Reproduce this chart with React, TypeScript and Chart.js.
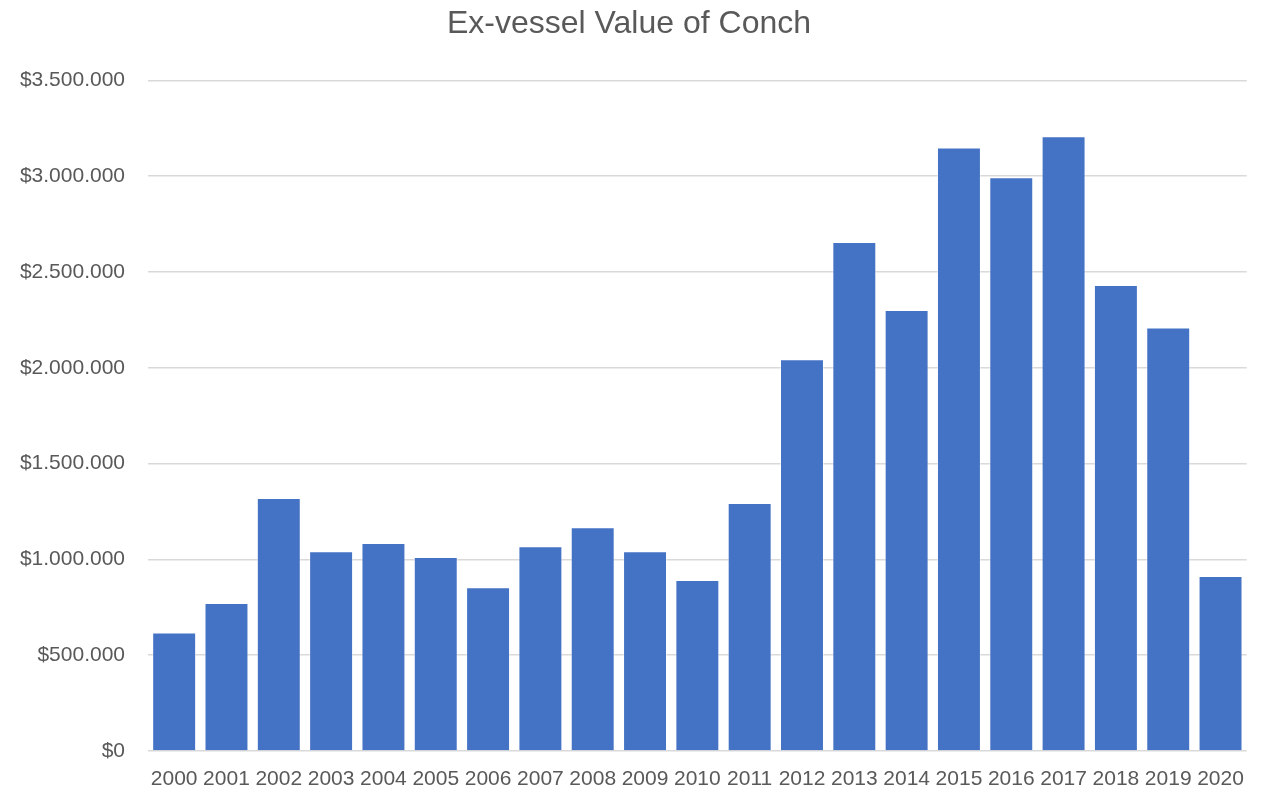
import React, { useEffect, useRef } from "react";
import { Chart, registerables } from "chart.js";

Chart.register(...registerables);

const years: string[] = [
  "2000", "2001", "2002", "2003", "2004", "2005", "2006", "2007", "2008", "2009", "2010",
  "2011", "2012", "2013", "2014", "2015", "2016", "2017", "2018", "2019", "2020",
];

const exVesselValue: number[] = [
  619000, 772000, 1321000, 1042000, 1085000, 1012000, 855000, 1069000, 1168000, 1043000, 892000,
  1294000, 2045000, 2657000, 2302000, 3150000, 2994000, 3208000, 2432000, 2210000, 913000,
];

const yMin = 0;
const yMax = 3500000;
const yStep = 500000;

const titleText = "Ex-vessel Value of Conch";

const FONT = "'Liberation Sans', Arial, sans-serif";

function formatDollar(v: number): string {
  const s = Math.round(v).toString().replace(/\B(?=(\d{3})+(?!\d))/g, ".");
  return "$" + s;
}

export default function App() {
  const ref = useRef<HTMLCanvasElement | null>(null);

  useEffect(() => {
    document.body.style.margin = "0";
    if (!ref.current) return;
    const chart = new Chart(ref.current, {
      type: "bar",
      data: {
        labels: years,
        datasets: [
          {
            label: "Ex-vessel Value",
            data: exVesselValue,
            backgroundColor: "#4472C4",
            borderColor: "rgba(255,255,255,0.45)",
            borderWidth: 1,
            barPercentage: 0.84,
            categoryPercentage: 1,
          },
        ],
      },
      options: {
        responsive: false,
        animation: false,
        maintainAspectRatio: false,
        layout: { padding: { top: 5, right: 4, bottom: 0, left: 0 } },
        plugins: {
          legend: { display: false },
          tooltip: { enabled: false },
          title: {
            display: true,
            text: titleText,
            color: "#595959",
            font: { family: FONT, size: 32, weight: "normal", lineHeight: 1.2 },
            padding: { top: 0, bottom: 37 },
          },
        },
        scales: {
          x: {
            afterFit: (scale: any) => {
              scale.height = 40;
            },
            grid: { display: false, drawTicks: false },
            border: { display: false },
            ticks: {
              color: "#595959",
              font: { family: FONT, size: 21, lineHeight: 1 },
              padding: 18,
              maxRotation: 0,
              autoSkip: false,
            },
          },
          y: {
            min: yMin,
            max: yMax,
            afterFit: (scale: any) => {
              scale.width = 148;
            },
            grid: { color: "#d9d9d9", lineWidth: 1.5, drawTicks: false },
            border: { display: false },
            ticks: {
              stepSize: yStep,
              color: "#595959",
              font: { family: FONT, size: 21 },
              padding: 23,
              callback: (v: any) => formatDollar(Number(v)),
            },
          },
        },
      },
    });
    return () => chart.destroy();
  }, []);

  return (
    <div style={{ width: 1262, height: 791, overflow: "hidden" }}>
      <canvas ref={ref} width={1262} height={791} style={{ display: "block" }} />
    </div>
  );
}
